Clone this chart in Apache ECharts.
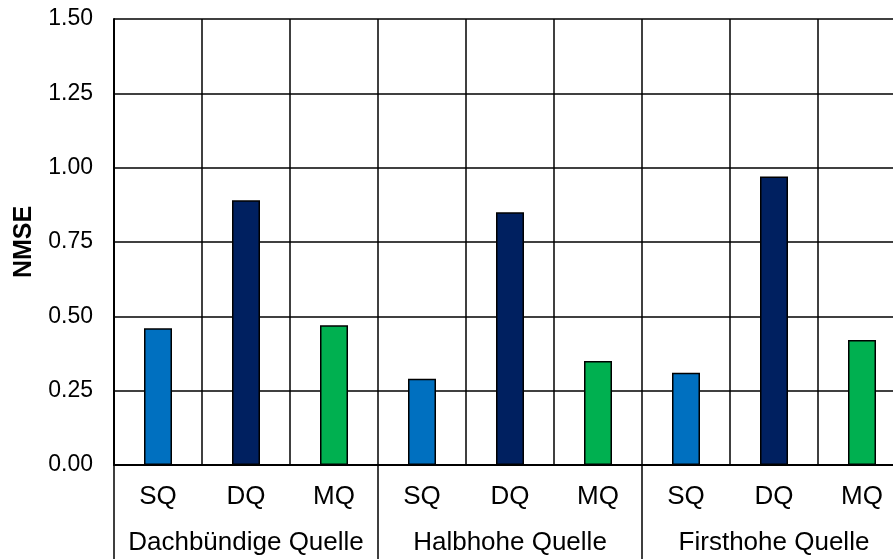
<!DOCTYPE html>
<html>
<head>
<meta charset="utf-8">
<script src="https://cdn.jsdelivr.net/npm/echarts@6/dist/echarts.min.js"></script>
<style>
  html, body { margin: 0; padding: 0; background: #fff; }
  #chart { width: 893px; height: 559px; }
</style>
</head>
<body>
<div id="chart"></div>
<script>
// Daten
const sources = ['SQ', 'DQ', 'MQ', 'SQ', 'DQ', 'MQ', 'SQ', 'DQ', 'MQ']
const groups = ['Dachbündige Quelle', 'Halbhohe Quelle', 'Firsthohe Quelle']
const nmse = [0.46, 0.89, 0.47, 0.29, 0.85, 0.35, 0.31, 0.97, 0.42]
const yTicks = [0, 0.25, 0.5, 0.75, 1.0, 1.25, 1.5]

// Farben je Quelle
const colors = { SQ: '#0070C0', DQ: '#002060', MQ: '#00B050' }
const font = 'Liberation Sans, Arial, sans-serif'

const chart = echarts.init(document.getElementById('chart'))

const option = {
  animation: false,
  // Gitter geht rechts über den Rand hinaus (wie im Original abgeschnitten)
  grid: { left: 114, top: 19, width: 792, bottom: 94, containLabel: false, outerBoundsMode: 'none' },
  xAxis: [
    {
      type: 'category',
      data: sources,
      axisLine: { show: true, lineStyle: { color: '#000', width: 2 } },
      axisTick: { show: false },
      axisLabel: { interval: 0, margin: 19, color: '#000', fontSize: 26, fontFamily: font },
      splitLine: { show: true, interval: 0, lineStyle: { color: '#000', width: 1.5 } }
    },
    {
      // Gruppenbeschriftung unten
      type: 'category',
      position: 'bottom',
      data: groups,
      axisLine: { show: false },
      axisTick: { show: true, interval: 0, length: 100, lineStyle: { color: '#000', width: 1.5 } },
      axisLabel: { interval: 0, margin: 65, color: '#000', fontSize: 26, fontFamily: font },
      splitLine: { show: false }
    }
  ],
  yAxis: {
    type: 'value',
    min: yTicks[0],
    max: yTicks[yTicks.length - 1],
    interval: 0.25,
    name: 'NMSE',
    nameLocation: 'middle',
    nameGap: 77,
    nameRotate: 90,
    nameTextStyle: { color: '#000', fontSize: 25, fontWeight: 'bold', fontFamily: font },
    axisLine: { show: true, lineStyle: { color: '#000', width: 2 } },
    axisTick: { show: false },
    axisLabel: {
      margin: 21,
      color: '#000',
      fontSize: 23,
      fontFamily: font,
      formatter: v => v.toFixed(2)
    },
    splitLine: { show: true, lineStyle: { color: '#000', width: 1.5 } }
  },
  series: [
    {
      type: 'bar',
      xAxisIndex: 0,
      data: nmse,
      barWidth: 28,
      itemStyle: {
        color: p => colors[sources[p.dataIndex]],
        borderColor: '#000',
        borderWidth: 1.5
      }
    }
  ]
}

chart.setOption(option)
</script>
</body>
</html>
